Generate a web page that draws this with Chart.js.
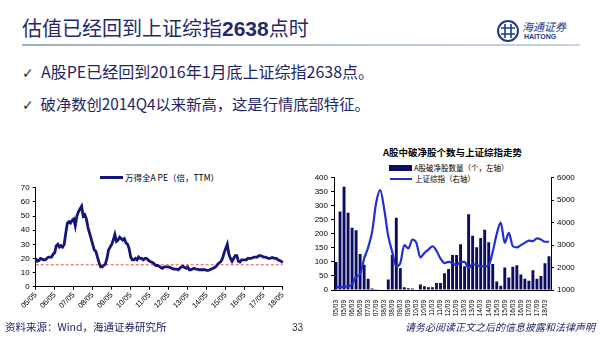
<!DOCTYPE html>
<html><head><meta charset="utf-8">
<script src="https://cdn.jsdelivr.net/npm/chart.js@4.4.1/dist/chart.umd.min.js"></script>
<style>
body{margin:0;width:600px;height:338px;background:#fff;overflow:hidden;position:relative;font-family:"Noto Sans CJK SC","Noto Sans",sans-serif;}
.abs{position:absolute;white-space:nowrap;line-height:1;}
canvas{position:absolute;}
</style></head>
<body>
<div class="abs" style="left:22px;top:18px;font-size:20px;color:#1f2a6e;">估值已经回到上证综指<b style="font-family:'Liberation Sans',Arial,sans-serif;font-size:21px;">2638</b>点时</div>
<svg class="abs" style="left:496px;top:19px;" width="24" height="24" viewBox="0 0 24 24">
 <circle cx="12" cy="12" r="10" fill="none" stroke="#1f3a8a" stroke-width="2"/>
 <path d="M5 9 H19 M5 15 H19 M9 5 V19 M15 5 V19" stroke="#1f3a8a" stroke-width="1.6" fill="none"/>
</svg>
<div class="abs" style="left:522px;top:21px;font-size:11px;color:#1f3a8a;font-style:italic;">海通证券</div>
<div class="abs" style="left:524px;top:33px;font-size:7px;color:#1f3a8a;font-weight:bold;font-family:'Liberation Sans',Arial;">HAITONG</div>
<div class="abs" style="left:22px;top:44px;width:558px;height:2px;background:linear-gradient(to right,#9db0c6,#c9d5e2);"></div>

<div class="abs" style="left:22px;top:63px;font-size:16px;color:#1e2466;"><span style="font-family:'DejaVu Sans';font-size:14px;color:#333;">✓</span>&nbsp; A股PE已经回到2016年1月底上证综指2638点。</div>
<div class="abs" style="left:22px;top:96px;font-size:15.3px;color:#1e2466;"><span style="font-family:'DejaVu Sans';font-size:14px;color:#333;">✓</span>&nbsp; 破净数创2014Q4以来新高，这是行情底部特征。</div>

<div class="abs" style="left:100px;top:176px;width:23px;height:3px;background:#14147a;"></div>
<div class="abs" style="left:125px;top:173px;font-size:8.5px;color:#000;">万得全A PE（倍，TTM）</div>

<div class="abs" style="left:383px;top:148px;font-size:9.5px;font-weight:bold;color:#000;">A股中破净股个数与上证综指走势</div>
<div class="abs" style="left:389px;top:165px;width:23px;height:6px;background:#0c0c62;"></div>
<div class="abs" style="left:414px;top:164px;font-size:7.5px;color:#000;">A股破净股数量（个，左轴）</div>
<div class="abs" style="left:390px;top:178px;width:22px;height:2px;background:#1f2fd0;"></div>
<div class="abs" style="left:415px;top:175px;font-size:7.5px;color:#000;">上证综指（右轴）</div>

<canvas id="c1" width="295" height="140" style="left:0;top:180px;"></canvas>
<canvas id="c2" width="300" height="155" style="left:300px;top:170px;"></canvas>

<div class="abs" style="left:5px;top:322px;font-size:10.5px;color:#1e2466;">资料来源：Wind，海通证券研究所</div>
<div class="abs" style="left:292px;top:323px;font-size:10px;color:#333;font-family:'Liberation Sans',Arial;">33</div>
<div class="abs" style="left:405px;top:322px;font-size:10px;color:#1e2466;font-style:italic;">请务必阅读正文之后的信息披露和法律声明</div>

<script>
// ---- Left chart: 万得全A PE (monthly, 2005/05 - 2018/05) ----
const peLabels = [];
for (let y = 2005; y <= 2018; y++) {
  for (let m = 1; m <= 12; m++) {
    if ((y === 2005 && m < 5) || (y === 2018 && m > 5)) continue;
    peLabels.push(String(y % 100).padStart(2, '0') + '/' + String(m).padStart(2, '0'));
  }
}
const peValues = [
  20, 18, 18.5, 20, 19.5, 19, 19, 20,
  21, 21, 21, 23, 24, 29, 30, 28, 29, 28, 30, 38,
  45, 46, 45, 47, 48, 43, 50, 53, 55, 57, 50, 51,
  48, 42, 38, 34, 30, 26, 25, 21, 17, 14, 14, 15,
  16, 20, 26, 28, 30, 33, 37, 32, 33, 35, 34, 33,
  34, 31, 30, 27, 21, 19, 19, 20, 19, 21, 20, 20,
  19, 20, 20, 19, 18, 17.5, 17, 16, 15, 15, 14.5, 13.5,
  13, 14, 14, 14, 14, 13.5, 13, 12.5, 12.5, 12.5, 12, 13,
  14, 14.5, 13.5, 13, 14, 12, 12, 12.5, 13, 12.5, 12.5, 12,
  12, 12, 12, 12, 11.5, 11.5, 12, 12.5, 13, 13.5, 14.5, 16,
  17, 18, 20, 24, 27, 30, 23, 20, 18, 20, 22, 22,
  18, 17.5, 19, 19, 19, 19, 20, 20, 20, 20.5, 21, 21,
  21, 22, 22, 21.5, 21, 21, 20.5, 20, 20, 20.5, 20.5, 20,
  20, 19, 18.5, 18, 17
];
const peReference = 15.5;
const peTicks = [0, 10, 20, 30, 40, 50, 60, 70];

// ---- Right chart: quarterly 2005/03 - 2018/06 ----
const qLabels = [];
for (let y = 2005; y <= 2018; y++) {
  for (const m of [3, 6, 9, 12]) {
    if (y === 2018 && m > 6) continue;
    qLabels.push(String(y % 100).padStart(2, '0') + '/' + String(m).padStart(2, '0'));
  }
}
const belowBookCount = [
  100, 280, 368, 275, 222, 213, 128, 90, 40, 5, 3, 0, 0, 37,
  125, 258, 78, 10, 6, 5, 0, 20, 13, 10, 10, 25, 25, 60,
  75, 125, 125, 163, 85, 270, 193, 152, 185, 215, 170, 93, 30, 15,
  80, 45, 83, 88, 55, 40, 33, 70, 40, 50, 95, 120
];
const shComposite = [
  1150, 1120, 1150, 1160, 1250, 1600, 1700, 2400, 2900, 3600, 4900, 5450, 4600, 3400,
  2700, 2050, 2200, 3000, 2850, 3250, 3100, 2450, 2650, 2800, 2950, 2750, 2400, 2200,
  2250, 2200, 2100, 2250, 2250, 1980, 2150, 2120, 2050, 2050, 2100, 2700, 3500, 4000,
  3100, 3550, 2950, 2900, 3000, 3100, 3200, 3180, 3300, 3250, 3150, 3150
];

const tickFont = {family: "'Liberation Sans', Arial, sans-serif", size: 8};
const plain = v => String(v);

new Chart(document.getElementById('c1'), {
  type: 'line',
  data: {
    labels: peLabels,
    datasets: [
      {data: peValues, borderColor: '#14147a', borderWidth: 2.8, pointRadius: 0, tension: 0},
      {data: peLabels.map(() => peReference), borderColor: '#e04848', borderWidth: 1, borderDash: [3, 2], pointRadius: 0}
    ]
  },
  options: {
    animation: false, responsive: false,
    plugins: {legend: {display: false}, tooltip: {enabled: false}},
    layout: {padding: {top: 6.7, right: 12.3, left: 0, bottom: 0}},
    scales: {
      x: {
        offset: false,
        grid: {drawOnChartArea: false, tickLength: 3, color: c => (c.index % 12 === 0 ? '#000' : 'rgba(0,0,0,0)')},
        border: {color: '#000'},
        ticks: {autoSkip: false, minRotation: 45, maxRotation: 45, padding: 1, color: '#000',
          font: {family: tickFont.family, size: 7.5},
          callback: (v, i) => (i % 12 === 0 ? peLabels[i] : '')},
        afterFit: s => { s.height = 33.3; }
      },
      y: {
        min: 0, max: 70,
        afterBuildTicks: s => { s.ticks = peTicks.map(v => ({value: v})); },
        grid: {drawOnChartArea: false, tickLength: 3, color: '#000'},
        border: {color: '#000'},
        ticks: {color: '#000', font: tickFont, padding: 3, callback: plain},
        afterFit: s => { s.width = 35.7; }
      }
    }
  }
});

new Chart(document.getElementById('c2'), {
  data: {
    labels: qLabels,
    datasets: [
      {type: 'line', data: shComposite, yAxisID: 'y1', borderColor: '#1f2fd0', borderWidth: 2.2,
        pointRadius: 0, cubicInterpolationMode: 'monotone', order: 0},
      {type: 'bar', data: belowBookCount, yAxisID: 'y', backgroundColor: '#0c0c62',
        barPercentage: 0.72, categoryPercentage: 1, order: 1}
    ]
  },
  options: {
    animation: false, responsive: false,
    plugins: {legend: {display: false}, tooltip: {enabled: false}},
    layout: {padding: {top: 5, right: 0, left: 0, bottom: 0}},
    scales: {
      x: {
        grid: {display: false},
        border: {display: true, color: '#000'},
        ticks: {autoSkip: false, minRotation: 90, maxRotation: 90, padding: 2, color: '#000',
          font: {family: tickFont.family, size: 6.5},
          callback: (v, i) => (i % 2 === 0 ? qLabels[i] : '')},
        afterFit: s => { s.height = 35; }
      },
      y: {
        position: 'left', min: 0, max: 400,
        ticks: {stepSize: 50, color: '#000', font: tickFont, padding: 3, callback: plain},
        grid: {drawOnChartArea: false, tickLength: 3, color: '#000'},
        border: {color: '#000'},
        afterFit: s => { s.width = 34; }
      },
      y1: {
        position: 'right', min: 1000, max: 6000,
        ticks: {stepSize: 500, color: '#000', font: tickFont, padding: 3, callback: plain},
        grid: {drawOnChartArea: false, tickLength: 3, color: '#000'},
        border: {color: '#000'},
        afterFit: s => { s.width = 49; }
      }
    }
  }
});
</script>
</body></html>
